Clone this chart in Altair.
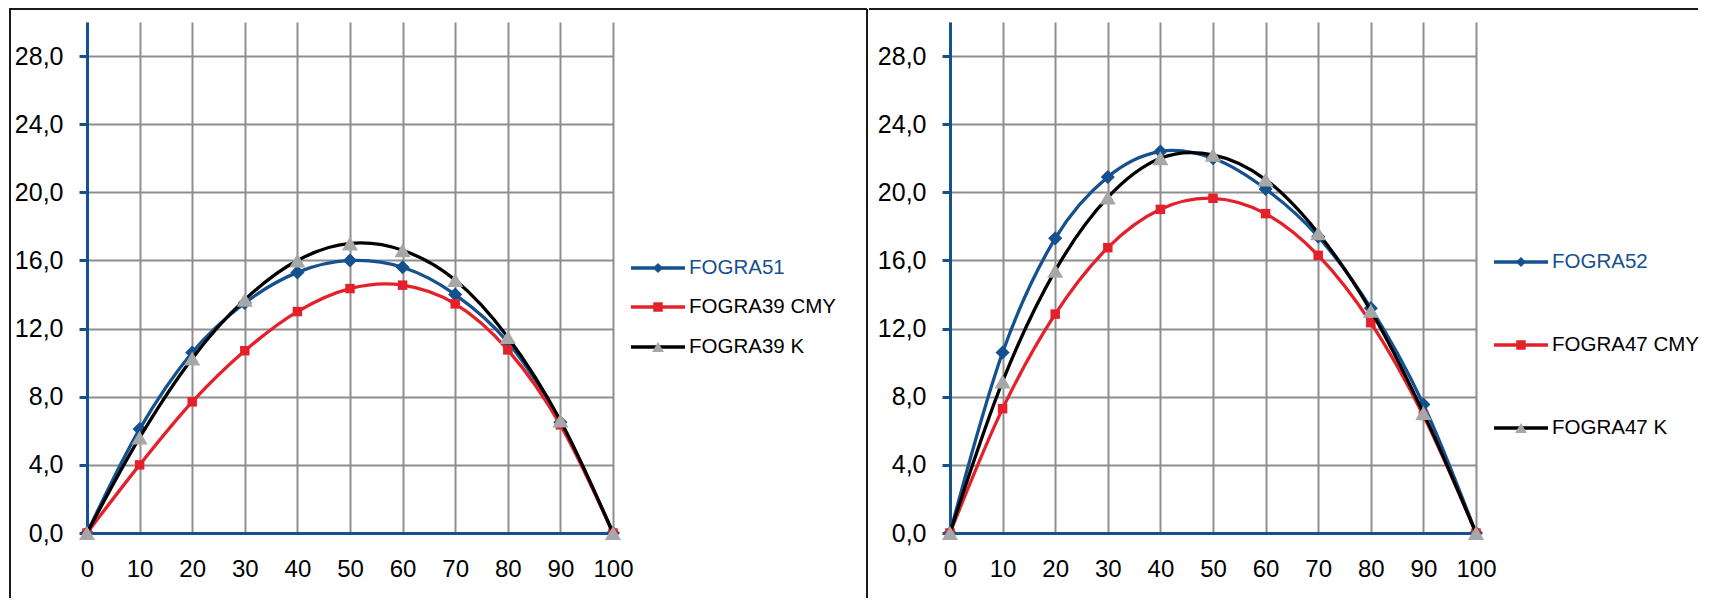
import altair as alt
import pandas as pd

# ---------------- data ----------------
tone = [0, 10, 20, 30, 40, 50, 60, 70, 80, 90, 100]
x_ticks = [0, 10, 20, 30, 40, 50, 60, 70, 80, 90, 100]
y_ticks = [0, 4, 8, 12, 16, 20, 24, 28]

left_names = ["FOGRA51", "FOGRA39 CMY", "FOGRA39 K"]
fogra51 = [0, 6.1, 10.6, 13.5, 15.3, 16.0, 15.6, 14.0, 11.2, 6.5, 0]
fogra39_cmy = [0, 4.0, 7.7, 10.7, 13.0, 14.35, 14.55, 13.45, 10.75, 6.35, 0]
fogra39_k = [0, 5.6, 10.25, 13.7, 16.0, 17.0, 16.6, 14.85, 11.5, 6.6, 0]

right_names = ["FOGRA52", "FOGRA47 CMY", "FOGRA47 K"]
fogra52 = [0, 10.6, 17.3, 20.9, 22.4, 22.0, 20.2, 17.4, 13.2, 7.55, 0]
fogra47_cmy = [0, 7.3, 12.85, 16.75, 19.0, 19.65, 18.75, 16.3, 12.35, 6.9, 0]
fogra47_k = [0, 8.9, 15.4, 19.7, 22.0, 22.2, 20.75, 17.6, 13.05, 7.05, 0]

# ---------------- styles ----------------
BLUE = "#15508F"
RED = "#E4212B"
BLACK = "#000000"
GRAY = "#A6A8A8"
GRID = "#8E8E8E"
FRAME = "#1A1A1A"
FONT = "Liberation Sans"
W, H = 526, 511

line_colors = [BLUE, RED, BLACK]
marker_colors = [BLUE, RED, GRAY]
shapes = ["diamond", "square", "triangle-up"]
marker_sizes = [200, 90, 260]
legend_marker_sizes = [105, 90, 140]
label_colors = [BLUE, BLACK, BLACK]

one_row = pd.DataFrame({"k": [0]})


def panel(names, series, legend_rows, frame_left, frame_right, divider):
    df = pd.DataFrame({
        "tone": tone * 3,
        "value": series[0] + series[1] + series[2],
        "series": [names[0]] * len(tone) + [names[1]] * len(tone) + [names[2]] * len(tone),
    })
    x = alt.X("tone:Q", scale=alt.Scale(domain=[0, 100], nice=False, zero=False),
              axis=alt.Axis(values=x_ticks, title=None, grid=True, gridColor=GRID, gridWidth=2,
                            ticks=False, domainColor=BLUE, domainWidth=3, labelFontSize=24,
                            labelFont=FONT, labelColor="black", labelPadding=24, labelFlush=False,
                            zindex=0, labelOverlap=False))
    y = alt.Y("value:Q", scale=alt.Scale(domain=[0, 30], nice=False),
              axis=alt.Axis(values=y_ticks, title=None, grid=True, gridColor=GRID, gridWidth=2,
                            ticks=True, tickColor=BLUE, tickWidth=3, tickSize=8,
                            domainColor=BLUE, domainWidth=3, labelFontSize=25, labelFont=FONT,
                            labelColor="black", labelPadding=16, labelFlush=False, zindex=0,
                            labelOverlap=False,
                            labelExpr="replace(format(datum.value, '.1f'), '.', ',')"))
    base = alt.Chart(df)
    layers = []
    for i, name in enumerate(names):
        sub = base.transform_filter(alt.datum.series == name)
        layers.append(sub.mark_line(color=line_colors[i], strokeWidth=3.3, interpolate="cardinal")
                      .encode(x=x, y=y))
        layers.append(sub.mark_point(shape=shapes[i], filled=True, size=marker_sizes[i],
                                     color=marker_colors[i], opacity=1)
                      .encode(x=x, y=y))
    # legend
    for i, name in enumerate(names):
        ld = pd.DataFrame({"series": [name]})
        ly = legend_rows[i]
        layers.append(alt.Chart(ld).mark_rule(color=line_colors[i], strokeWidth=3.5)
                      .encode(x=alt.value(544), x2=alt.value(598), y=alt.value(ly)))
        layers.append(alt.Chart(ld).mark_point(shape=shapes[i], filled=True,
                                               size=legend_marker_sizes[i],
                                               color=marker_colors[i], opacity=1)
                      .encode(x=alt.value(571), y=alt.value(ly)))
        layers.append(alt.Chart(ld).mark_text(align="left", baseline="middle", fontSize=20.5,
                                              font=FONT, color=label_colors[i])
                      .encode(x=alt.value(602), y=alt.value(ly), text="series:N"))
    # frame
    layers.append(alt.Chart(one_row).mark_rule(color=FRAME, strokeWidth=2)
                  .encode(x=alt.value(frame_left), x2=alt.value(frame_right), y=alt.value(-13)))
    if divider is not None:
        layers.append(alt.Chart(one_row).mark_rule(color=FRAME, strokeWidth=2)
                      .encode(x=alt.value(divider), y=alt.value(-13), y2=alt.value(576)))
    return alt.layer(*layers).properties(width=W, height=H)


left = panel(left_names, [fogra51, fogra39_cmy, fogra39_k], [246, 285, 325],
             -78, 780, 780)
# left border
left = alt.layer(left, alt.Chart(one_row).mark_rule(color=FRAME, strokeWidth=2)
                 .encode(x=alt.value(-77), y=alt.value(-13), y2=alt.value(576)))
right = panel(right_names, [fogra52, fogra47_cmy, fogra47_k], [240, 323, 406],
              -81, 748, None)

chart = alt.hconcat(left, right, spacing=0).properties(
    padding=0, background="white"
).configure_view(stroke=None)

chart.save("out.html", embed_options={"renderer": "svg", "actions": False})
